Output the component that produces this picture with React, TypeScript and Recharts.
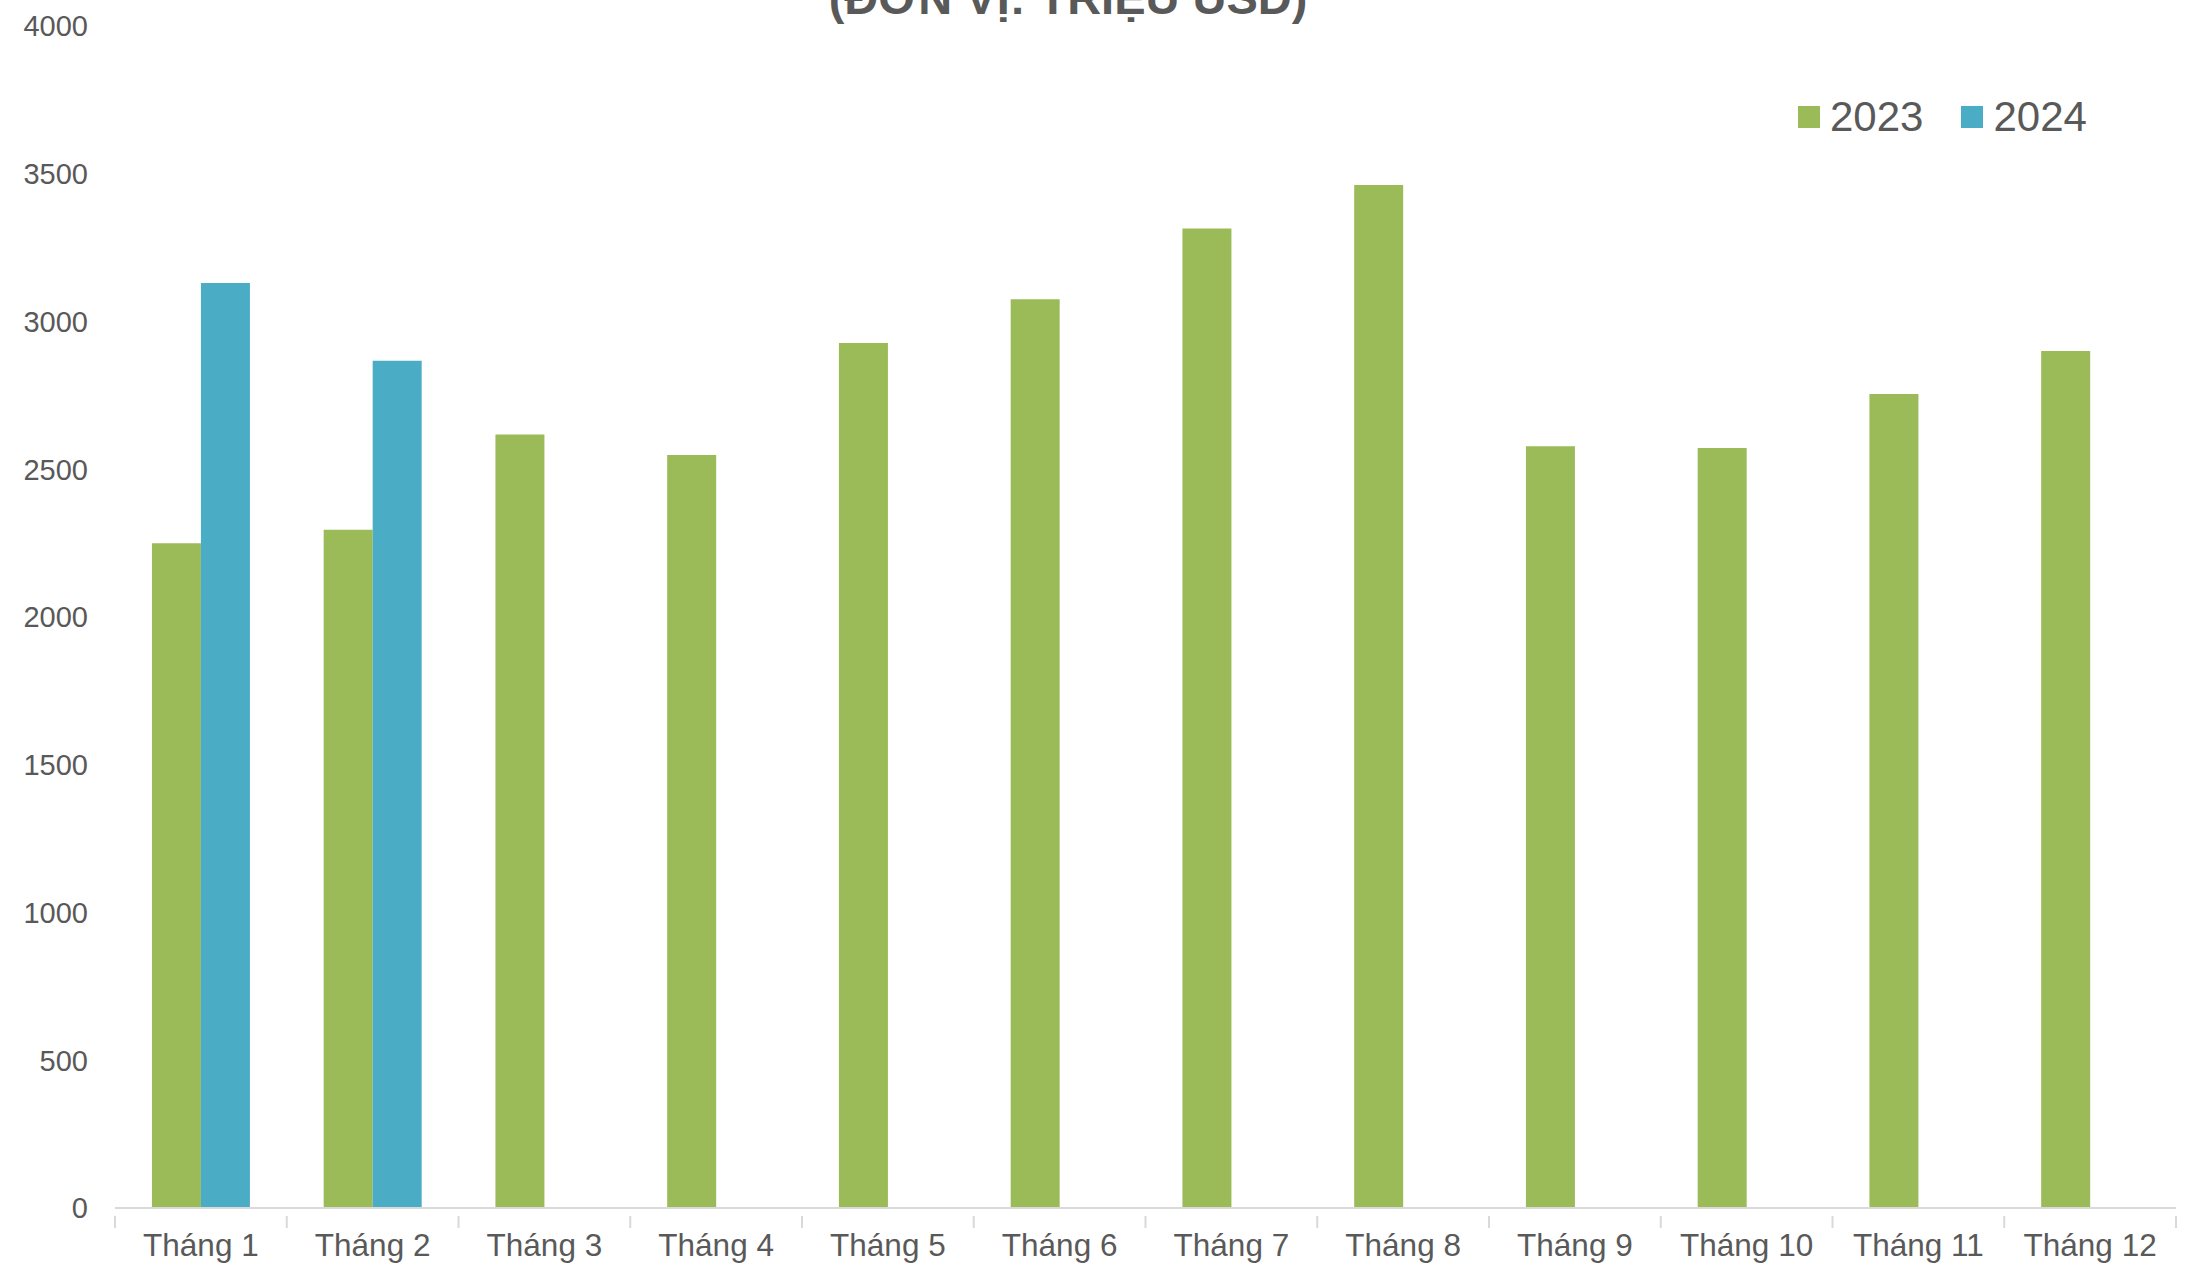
import React from "react";
import { BarChart, Bar, XAxis, YAxis, Legend } from "recharts";

const months = ["Tháng 1", "Tháng 2", "Tháng 3", "Tháng 4", "Tháng 5", "Tháng 6", "Tháng 7", "Tháng 8", "Tháng 9", "Tháng 10", "Tháng 11", "Tháng 12"];
const values2023 = [2250, 2295, 2618, 2548, 2927, 3075, 3315, 3462, 2578, 2572, 2755, 2900];
const values2024: (number | null)[] = [3130, 2867, null, null, null, null, null, null, null, null, null, null];
const yTicks = [0, 500, 1000, 1500, 2000, 2500, 3000, 3500, 4000];
const title = "(ĐƠN VỊ: TRIỆU USD)";

const data = months.map((m, i) => ({ month: m, y2023: values2023[i], y2024: values2024[i] }));

const FONT = "'Liberation Sans', Arial, sans-serif";
const TEXT = "#595959";
const GREEN = "#9BBB59";
const BLUE = "#4BACC6";
const AXIS = "#D9D9D9";

const XTick = (props: any) => {
  const { x, y, payload, index } = props;
  const off = payload.offset || 0;
  return (
    <g>
      <line x1={x - off} x2={x - off} y1={y} y2={y + 12} stroke={AXIS} strokeWidth={2} />
      {index === months.length - 1 && (
        <line x1={x + off} x2={x + off} y1={y} y2={y + 12} stroke={AXIS} strokeWidth={2} />
      )}
      <text x={x} y={y + 40} textAnchor="middle" fill={TEXT} fontSize={31.5} fontFamily={FONT}>
        {payload.value}
      </text>
    </g>
  );
};

const LegendContent = (props: any) => {
  const { payload } = props;
  return (
    <div style={{ display: "flex", alignItems: "center", fontFamily: FONT }}>
      {payload.map((p: any, i: number) => (
        <div key={i} style={{ display: "flex", alignItems: "center", marginRight: i === 0 ? 38 : 0 }}>
          <div style={{ width: 22, height: 22, background: p.color, marginRight: 10 }} />
          <span style={{ fontSize: 42, color: TEXT, lineHeight: "48px" }}>{p.value}</span>
        </div>
      ))}
    </div>
  );
};

export default function App() {
  return (
    <div style={{ position: "absolute", left: 0, top: 0, width: 2193, height: 1264, background: "#fff" }}>
      <BarChart
        width={2193}
        height={1264}
        data={data}
        margin={{ top: 26, right: 17, left: 0, bottom: 0 }}
        barCategoryGap="21.5%"
        barGap={0}
      >
        <XAxis
          dataKey="month"
          height={56}
          tickLine={false}
          axisLine={{ stroke: AXIS, strokeWidth: 2 }}
          tick={<XTick />}
          interval={0}
        />
        <YAxis
          width={115}
          domain={[0, 4000]}
          ticks={yTicks}
          axisLine={false}
          tickLine={false}
          tickSize={0}
          tickMargin={27}
          tick={{ fill: TEXT, fontSize: 29, fontFamily: FONT }}
          interval={0}
        />
        <Legend
          verticalAlign="middle"
          align="center"
          content={<LegendContent />}
          wrapperStyle={{ position: "absolute", top: 93, left: 1798, width: 400 }}
        />
        <Bar dataKey="y2023" name="2023" fill={GREEN} isAnimationActive={false} />
        <Bar dataKey="y2024" name="2024" fill={BLUE} isAnimationActive={false} />
      </BarChart>
      <svg width={2193} height={60} style={{ position: "absolute", left: 0, top: 0 }}>
        <text x={1068} y={14} textAnchor="middle" fill={TEXT} fontSize={47} fontWeight="bold" fontFamily={FONT}>
          {title}
        </text>
      </svg>
    </div>
  );
}
